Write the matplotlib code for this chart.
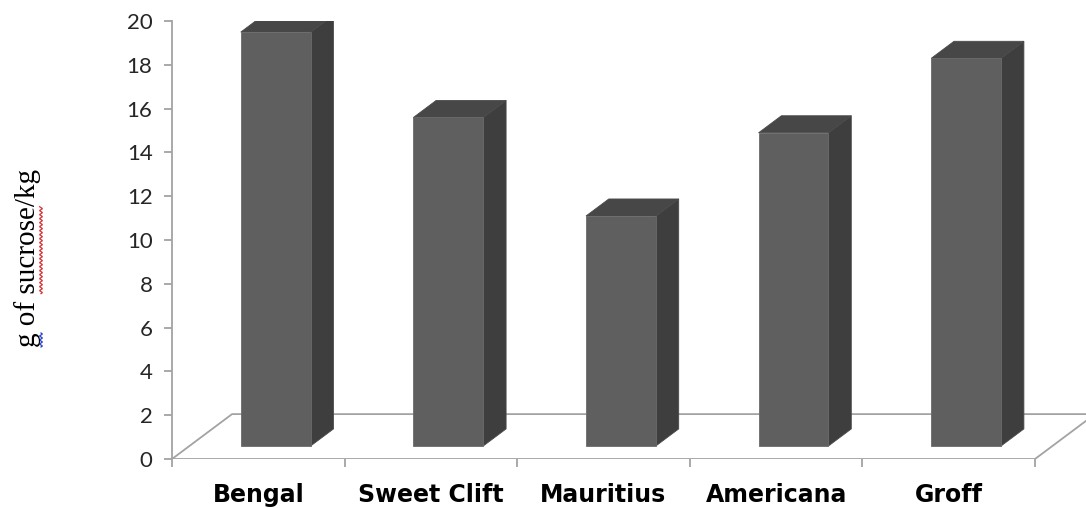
import numpy as np
import matplotlib
matplotlib.use("Agg")
import matplotlib.pyplot as plt
from matplotlib.patches import Polygon
from matplotlib.lines import Line2D
from matplotlib.transforms import IdentityTransform

# Sucrose content per variety
categories = ["Bengal", "Sweet Clift", "Mauritius", "Americana", "Groff"]
sucrose = [18.9, 15.0, 10.5, 14.3, 17.7]
y_ticks = list(range(0, 21, 2))
y_label = "g of sucrose/kg"

# colours
FRONT = "#5f5f5f"
SIDE = "#3e3e3e"
TOP = "#474747"
AXIS_GREY = "#a3a3a3"

W, H, DPI = 1086, 508, 100
fig = plt.figure(figsize=(W / DPI, H / DPI), dpi=DPI)
fig.patch.set_facecolor("white")

n = len(categories)
ax_left, ax_bottom, ax_top = 172, 49, 487
cat_px = 172.6
ax = fig.add_axes([ax_left / W, ax_bottom / H, (W - ax_left) / W, (ax_top - ax_bottom) / H])
ax.set_xlim(0, (W - ax_left) / cat_px)
ax.set_ylim(0, 20)

# oblique depth projection (full floor depth in data units)
DX, DY = 0.348, 2.05
d0, d1 = 0.29, 0.67
bar_w = 0.405

# floor
floor = Polygon([(0, 0), (n, 0), (n + DX, DY), (DX, DY)], closed=True,
                facecolor="white", edgecolor=AXIS_GREY, lw=1.3, zorder=1)
ax.add_patch(floor)

# 3-D columns
for i, v in enumerate(sucrose):
    xl = i + 0.5 - bar_w / 2 + d0 * DX
    xr = xl + bar_w
    yb = d0 * DY
    yt = yb + v
    ddx, ddy = (d1 - d0) * DX, (d1 - d0) * DY
    front = Polygon([(xl, yb), (xr, yb), (xr, yt), (xl, yt)],
                    facecolor=FRONT, edgecolor="#6a6a6a", lw=0.6, zorder=3)
    side = Polygon([(xr, yb), (xr + ddx, yb + ddy), (xr + ddx, yt + ddy), (xr, yt)],
                   facecolor=SIDE, edgecolor="#4a4a4a", lw=0.6, zorder=3)
    top = Polygon([(xl, yt), (xr, yt), (xr + ddx, yt + ddy), (xl + ddx, yt + ddy)],
                  facecolor=TOP, edgecolor="#4a4a4a", lw=0.6, zorder=3)
    for p in (side, top, front):
        ax.add_patch(p)

# axes styling
for s in ("top", "right", "bottom"):
    ax.spines[s].set_visible(False)
ax.spines["left"].set_color(AXIS_GREY)
ax.spines["left"].set_linewidth(1.3)
ax.spines["left"].set_bounds(0, 20)

ax.set_yticks(y_ticks)
ax.set_yticklabels([str(t) for t in y_ticks], fontfamily="Lato", fontsize=16, color="#262626")
ax.tick_params(axis="y", direction="out", length=6, width=1.3, color=AXIS_GREY, pad=8)

ax.set_xticks(range(n + 1))
ax.set_xticklabels([""] * (n + 1))
ax.tick_params(axis="x", which="major", direction="out", length=6, width=1.3, color=AXIS_GREY)
ax.set_xticks([i + 0.5 for i in range(n)], minor=True)
ax.set_xticklabels(categories, minor=True, fontfamily="DejaVu Sans", fontweight="bold",
                   fontsize=17, color="black")
ax.tick_params(axis="x", which="minor", length=0, pad=17)

# rotated axis title
label = fig.text(28 / W, 1 - 258 / H, y_label, rotation=90, ha="center", va="center",
                 fontfamily="Liberation Serif", fontsize=21, color="black")

# spell-check squiggles under the title words
fig.canvas.draw()
r = fig.canvas.get_renderer()
bb = label.get_window_extent(r)
prop = label.get_fontproperties()


def tw(s):
    return r.get_text_width_height_descent(s, prop, ismath=False)[0]


def squiggle(y_start, y_end, x, color):
    ys = np.arange(y_start, y_end, 0.5)
    xs = x + 1.3 * np.sin(2 * np.pi * (ys - y_start) / 4.0)
    fig.add_artist(Line2D(xs, ys, transform=IdentityTransform(), color=color, lw=0.9))


x_sq = bb.x1 - 0.5
full = tw("g of sucrose")
s0 = bb.y0 + full - tw("sucrose")
squiggle(s0, s0 + tw("sucrose"), x_sq, "#d83a3a")
squiggle(bb.y0, bb.y0 + tw("g"), x_sq, "#3048c8")

fig.savefig("out.png", dpi=DPI, facecolor="white")
